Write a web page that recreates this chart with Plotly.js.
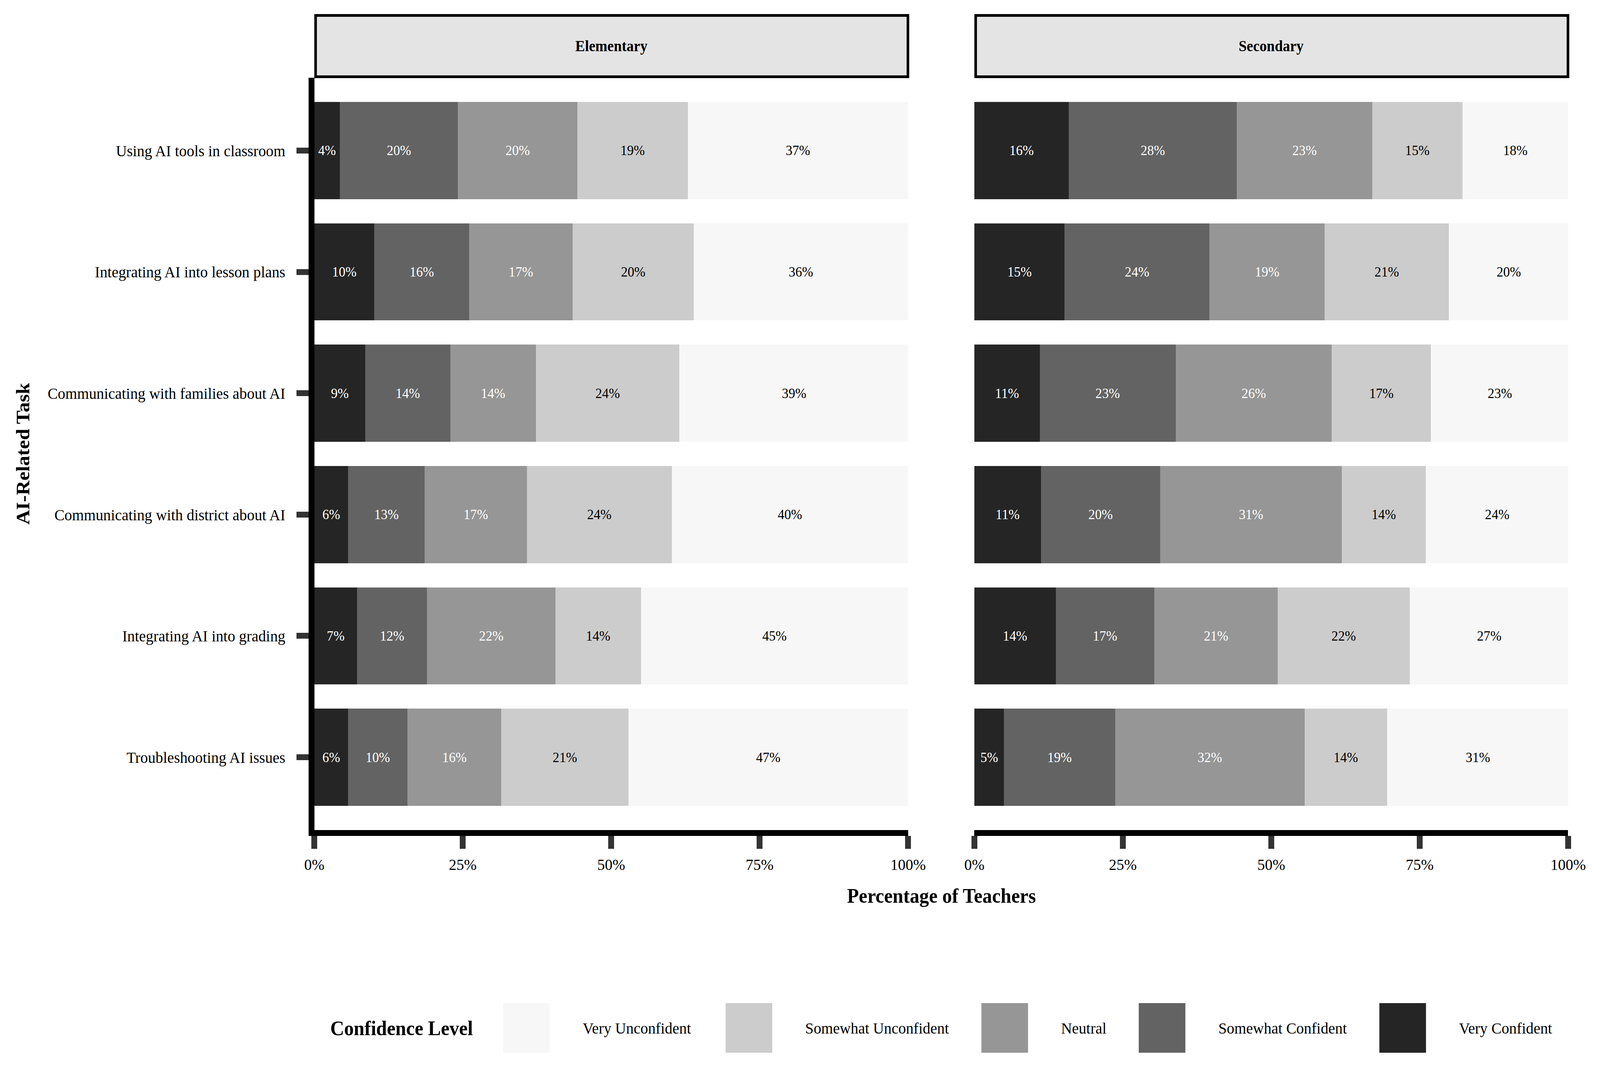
<!DOCTYPE html>
<html><head><meta charset="utf-8">
<script src="https://cdn.plot.ly/plotly-3.0.1.min.js"></script>
<style>
html,body{margin:0;padding:0;background:#fff;overflow:hidden}
#chart{width:4322px;height:2729px;transform-origin:0 0}
</style>
</head><body>
<div id="chart"></div>
<script>
// ---------- DATA ----------
const tasks = [
  "Using AI tools in classroom",
  "Integrating AI into lesson plans",
  "Communicating with families about AI",
  "Communicating with district about AI",
  "Integrating AI into grading",
  "Troubleshooting AI issues"
];
const levels = ["Very Confident", "Somewhat Confident", "Neutral", "Somewhat Unconfident", "Very Unconfident"];
const panels = ["Elementary", "Secondary"];
const xTickVals = [0, 25, 50, 75, 100];
const xTickText = ["0%", "25%", "50%", "75%", "100%"];

const elementaryVeryConfident       = [4.3, 10.1, 8.6, 5.7, 7.2, 5.7];
const elementarySomewhatConfident   = [19.9, 16.0, 14.3, 12.9, 11.8, 10.0];
const elementaryNeutral             = [20.1, 17.4, 14.4, 17.2, 21.6, 15.8];
const elementarySomewhatUnconfident = [18.6, 20.4, 24.2, 24.4, 14.4, 21.4];
const elementaryVeryUnconfident     = [37.1, 36.1, 38.6, 39.8, 45.0, 47.1];

const secondaryVeryConfident       = [15.9, 15.2, 11.0, 11.2, 13.7, 5.0];
const secondarySomewhatConfident   = [28.3, 24.4, 22.9, 20.1, 16.6, 18.7];
const secondaryNeutral             = [22.8, 19.4, 26.3, 30.6, 20.8, 31.9];
const secondarySomewhatUnconfident = [15.2, 20.9, 16.7, 14.1, 22.2, 13.9];
const secondaryVeryUnconfident     = [17.8, 20.2, 23.2, 24.1, 26.8, 30.6];

// ---------- STYLE ----------
const W = 4322, H = 2729;
// the browser viewport may be narrower than the design width: squeeze to fit
(function fit() {
  const sx = Math.min(1, window.innerWidth / W);
  const sy = Math.min(1, window.innerHeight / H);
  document.getElementById("chart").style.transform = "scale(" + sx + "," + sy + ")";
})();
const X = px => px / W;
const Y = py => 1 - py / H;
const FONT = "Liberation Serif, Times New Roman, serif";
const colors = {
  "Very Confident": "#252525",
  "Somewhat Confident": "#636363",
  "Neutral": "#969696",
  "Somewhat Unconfident": "#cccccc",
  "Very Unconfident": "#f7f7f7"
};
const textColors = {
  "Very Confident": "#ffffff",
  "Somewhat Confident": "#ffffff",
  "Neutral": "#ffffff",
  "Somewhat Unconfident": "#000000",
  "Very Unconfident": "#000000"
};
const panelPx = [[849, 2453], [2632, 4236]];
const plotTop = 199, plotBottom = 2125;
const stripTop = 39.5, stripBottom = 196.5;

const seriesByPanel = [
  [elementaryVeryConfident, elementarySomewhatConfident, elementaryNeutral, elementarySomewhatUnconfident, elementaryVeryUnconfident],
  [secondaryVeryConfident, secondarySomewhatConfident, secondaryNeutral, secondarySomewhatUnconfident, secondaryVeryUnconfident]
];

const traces = [];
seriesByPanel.forEach((series, p) => {
  series.forEach((vals, i) => {
    const lvl = levels[i];
    traces.push({
      type: "bar",
      orientation: "h",
      x: vals,
      y: tasks,
      name: lvl,
      xaxis: p === 0 ? "x" : "x2",
      yaxis: p === 0 ? "y" : "y2",
      marker: { color: colors[lvl], line: { width: 0 } },
      text: vals.map(v => Math.round(v) + "%"),
      textposition: "inside",
      insidetextanchor: "middle",
      textangle: 0,
      constraintext: "none",
      textfont: { family: FONT, size: 36, color: textColors[lvl] },
      hoverinfo: "skip",
      showlegend: false
    });
  });
});

const xAxisCommon = {
  range: [0, 100],
  tickvals: xTickVals,
  ticktext: xTickText,
  ticks: "outside",
  ticklen: 33,
  tickwidth: 16,
  tickcolor: "#333333",
  ticklabelstandoff: 5,
  showline: true,
  linecolor: "#000000",
  linewidth: 15,
  showgrid: false,
  zeroline: false,
  tickfont: { family: FONT, size: 41, color: "#000000" },
  fixedrange: true
};
const yDomain = [Y(plotBottom), Y(plotTop)];

const layout = {
  width: W, height: H,
  margin: { l: 0, r: 0, t: 0, b: 0, pad: 0 },
  paper_bgcolor: "#ffffff",
  plot_bgcolor: "#ffffff",
  barmode: "stack",
  bargap: 0.2,
  showlegend: false,
  font: { family: FONT, color: "#000000" },
  xaxis: Object.assign({}, xAxisCommon, { domain: [X(panelPx[0][0]), X(panelPx[0][1])], anchor: "y" }),
  xaxis2: Object.assign({}, xAxisCommon, { domain: [X(panelPx[1][0]), X(panelPx[1][1])], anchor: "y2" }),
  yaxis: {
    domain: yDomain, anchor: "x",
    type: "category", categoryorder: "array", categoryarray: tasks,
    range: [tasks.length - 0.4, -0.6],
    showline: true, linecolor: "#000000", linewidth: 15,
    ticks: "outside", ticklen: 33, tickwidth: 15, tickcolor: "#333333",
    ticklabelstandoff: 22,
    tickfont: { family: FONT, size: 41, color: "#000000" },
    showgrid: false, zeroline: false, fixedrange: true
  },
  yaxis2: {
    domain: yDomain, anchor: "x2",
    type: "category", categoryorder: "array", categoryarray: tasks,
    range: [tasks.length - 0.4, -0.6],
    showline: false, ticks: "", showticklabels: false,
    showgrid: false, zeroline: false, fixedrange: true
  },
  shapes: [],
  annotations: []
};

// facet strips
panels.forEach((name, p) => {
  layout.shapes.push({
    type: "rect", xref: "paper", yref: "paper",
    x0: X(panelPx[p][0] + 3.5), x1: X(panelPx[p][1] - 0.5),
    y0: Y(stripBottom), y1: Y(stripTop),
    fillcolor: "#e4e4e4", line: { color: "#000000", width: 7 }, layer: "above"
  });
  layout.annotations.push({
    xref: "paper", yref: "paper",
    x: X((panelPx[p][0] + panelPx[p][1]) / 2), y: Y((stripTop + stripBottom) / 2),
    text: "<b>" + name + "</b>", showarrow: false,
    xanchor: "center", yanchor: "middle",
    font: { family: FONT, size: 39, color: "#000000" }
  });
});

// axis titles
layout.annotations.push({
  xref: "paper", yref: "paper",
  x: X((panelPx[0][0] + panelPx[1][1]) / 2), y: Y(2293),
  text: "<b>Percentage of Teachers</b>", showarrow: false,
  xanchor: "center", yanchor: "middle",
  font: { family: FONT, size: 52, color: "#000000" }
});
layout.annotations.push({
  xref: "paper", yref: "paper",
  x: X(61), y: Y((plotTop + plotBottom) / 2),
  text: "<b>AI-Related Task</b>", showarrow: false, textangle: -90,
  xanchor: "center", yanchor: "middle",
  font: { family: FONT, size: 52, color: "#000000" }
});

// legend (drawn manually to get large keys)
const legendOrder = levels.slice().reverse();
const keyLeft = [1359, 1960, 2651, 3076, 3726];
const keyW = 126, keyTop = 2568, keyBottom = 2695, legendY = 2632;
layout.annotations.push({
  xref: "paper", yref: "paper",
  x: X(890), y: Y(legendY),
  text: "<b>Confidence Level</b>", showarrow: false,
  xanchor: "left", yanchor: "middle",
  font: { family: FONT, size: 52, color: "#000000" }
});
legendOrder.forEach((lvl, i) => {
  layout.shapes.push({
    type: "rect", xref: "paper", yref: "paper",
    x0: X(keyLeft[i]), x1: X(keyLeft[i] + keyW),
    y0: Y(keyBottom), y1: Y(keyTop),
    fillcolor: colors[lvl], line: { width: 0 }
  });
  layout.annotations.push({
    xref: "paper", yref: "paper",
    x: X(keyLeft[i] + keyW + 87), y: Y(legendY),
    text: lvl, showarrow: false,
    xanchor: "left", yanchor: "middle",
    font: { family: FONT, size: 41, color: "#000000" }
  });
});

Plotly.newPlot("chart", traces, layout, { staticPlot: true, displayModeBar: false });
</script>
</body></html>
